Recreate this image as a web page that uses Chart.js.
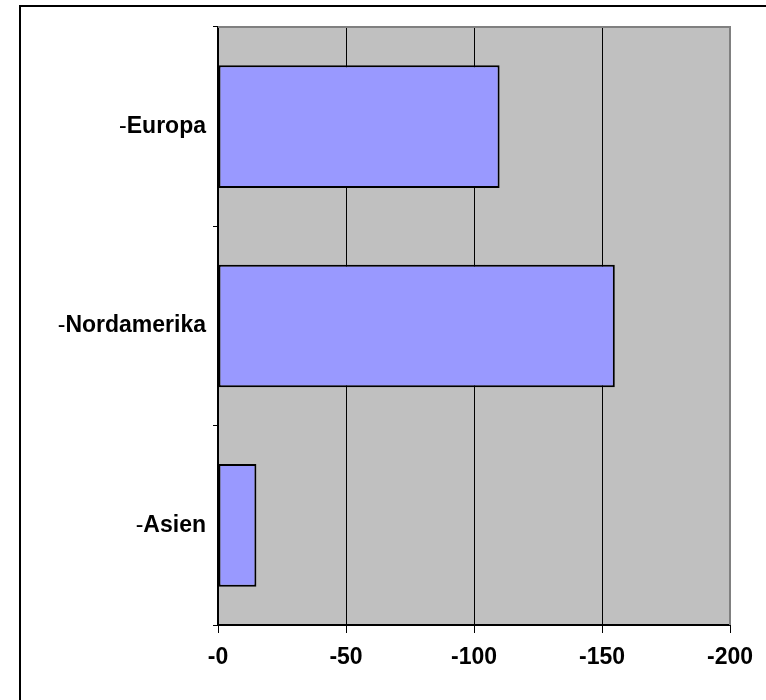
<!DOCTYPE html>
<html>
<head>
<meta charset="utf-8">
<script src="https://cdn.jsdelivr.net/npm/chart.js@4/dist/chart.umd.min.js"></script>
<style>
  html, body { margin: 0; padding: 0; background: #fff; overflow: hidden; }
  #wrap { position: relative; width: 766px; height: 700px; }
</style>
</head>
<body>
<div id="wrap"><canvas id="c" width="766" height="700"></canvas></div>
<script>
// Regions and their values
const regions = ['Europa', 'Nordamerika', 'Asien'];
const values = [-110, -155, -15];
const axisMin = -200;
const axisMax = 0;
const axisStep = 50;

const PLOT_LEFT = 218, PLOT_TOP = 27, PLOT_RIGHT = 730, PLOT_BOTTOM = 625;
const FONT = 'Liberation Sans, Arial, sans-serif';

// Grey plot background plus the outer frame of the chart
const framePlugin = {
  id: 'frame',
  beforeDraw(chart) {
    const { ctx, chartArea: a } = chart;
    ctx.save();
    ctx.fillStyle = '#ffffff';
    ctx.fillRect(0, 0, chart.width, chart.height);
    ctx.strokeStyle = '#000000';
    ctx.lineWidth = 2;
    ctx.beginPath();
    ctx.moveTo(20, chart.height + 5);
    ctx.lineTo(20, 6);
    ctx.lineTo(chart.width + 5, 6);
    ctx.stroke();
    ctx.fillStyle = '#C0C0C0';
    ctx.fillRect(a.left, a.top, a.right - a.left, a.bottom - a.top);
    ctx.restore();
  },
  afterDatasetsDraw(chart) {
    const { ctx, chartArea: a } = chart;
    ctx.save();
    ctx.strokeStyle = '#808080';
    ctx.lineWidth = 2;
    ctx.beginPath();
    ctx.moveTo(a.left, a.top);
    ctx.lineTo(a.right, a.top);
    ctx.lineTo(a.right, a.bottom);
    ctx.stroke();
    ctx.restore();
  }
};

// Category labels: a thin leading dash followed by the bold region name
const categoryLabels = {
  id: 'categoryLabels',
  afterDraw(chart) {
    const { ctx } = chart;
    const y = chart.scales.y;
    const right = y.right - 12;
    ctx.save();
    ctx.fillStyle = '#000000';
    ctx.textBaseline = 'middle';
    ctx.textAlign = 'right';
    regions.forEach((name, i) => {
      const py = y.getPixelForValue(i);
      ctx.font = 'bold 23px ' + FONT;
      ctx.fillText(name, right, py);
      const w = ctx.measureText(name).width;
      ctx.font = 'normal 23px ' + FONT;
      ctx.fillText('-', right - w, py);
    });
    ctx.restore();
  }
};

new Chart(document.getElementById('c'), {
  type: 'bar',
  data: {
    labels: regions,
    datasets: [{
      data: values,
      backgroundColor: '#9999FF',
      borderColor: '#000000',
      borderWidth: 2,
      borderSkipped: false,
      barPercentage: 0.615,
      categoryPercentage: 1.0
    }]
  },
  options: {
    indexAxis: 'y',
    responsive: false,
    animation: false,
    devicePixelRatio: 1,
    layout: { padding: { left: 0, top: PLOT_TOP, right: 766 - PLOT_RIGHT, bottom: 0 } },
    plugins: {
      legend: { display: false },
      tooltip: { enabled: false },
      title: { display: false }
    },
    scales: {
      x: {
        type: 'linear',
        reverse: true,
        min: axisMin,
        max: axisMax,
        afterFit(scale) { scale.height = 700 - PLOT_BOTTOM; },
        ticks: {
          stepSize: axisStep,
          color: '#000000',
          padding: 11,
          maxRotation: 0,
          font: { family: FONT, size: 23, weight: 'bold' },
          callback: v => '-' + Math.abs(v)
        },
        grid: {
          drawOnChartArea: true,
          color: ctx => (ctx.tick && ctx.tick.value === axisMin) ? '#808080' : '#000000',
          lineWidth: 1,
          tickLength: 8,
          tickColor: '#000000'
        },
        border: { display: true, color: '#000000', width: 2 }
      },
      y: {
        type: 'category',
        offset: true,
        afterFit(scale) { scale.width = PLOT_LEFT; },
        ticks: { display: false },
        grid: {
          offset: true,
          drawOnChartArea: false,
          drawTicks: true,
          tickLength: 5,
          tickColor: '#000000',
          lineWidth: 1
        },
        border: { display: true, color: '#000000', width: 2 }
      }
    }
  },
  plugins: [framePlugin, categoryLabels]
});
</script>
</body>
</html>
